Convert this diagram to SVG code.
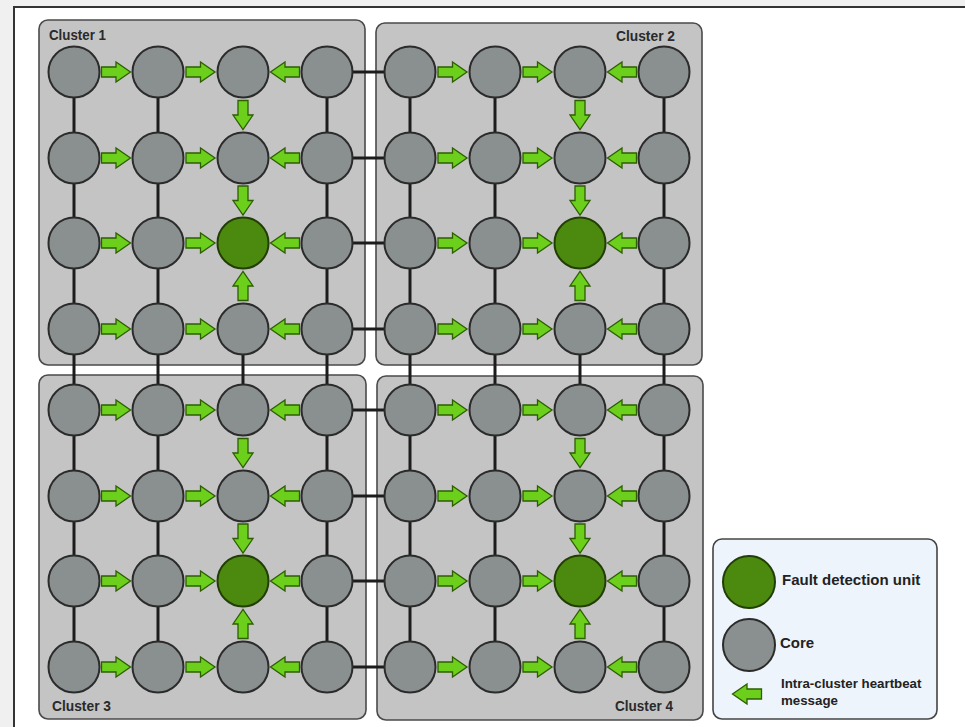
<svg xmlns="http://www.w3.org/2000/svg" xmlns:xlink="http://www.w3.org/1999/xlink" width="965" height="727" viewBox="0 0 965 727">
<style>
.cluster{fill:#c4c4c4;stroke:#4a4a4a;stroke-width:1.6}
.core{fill:#8a8f90;stroke:#2b2b2b;stroke-width:2}
.fdu{fill:#4b8a0e;stroke:#223d05;stroke-width:2}
.link{stroke:#1c1c1c;stroke-width:3;fill:none}
.hb{fill:#6ccf1c;stroke:#2d5e00;stroke-width:1.3}
.clabel{font-family:"Liberation Sans",Arial,sans-serif;font-weight:bold;font-size:15.5px;fill:#2a2a2a}
.ltext{font-family:"Liberation Sans",Arial,sans-serif;font-weight:bold;fill:#222}
</style>
<defs>
<path id="ar" d="M-14.5,-5 H0 V-10 L14.5,0 L0,10 V5 H-14.5 Z"/>
</defs>
<rect x="0" y="0" width="965" height="727" fill="#f0f0f0"/>
<rect x="14" y="7" width="1000" height="800" fill="#ffffff" stroke="#333" stroke-width="2"/>

<g id="clusters">
<g id="cluster1"><rect class="cluster" x="39" y="20" width="326" height="345" rx="9"/><text class="clabel" x="49" y="40" textLength="57" lengthAdjust="spacingAndGlyphs">Cluster 1</text></g>
<g id="cluster2"><rect class="cluster" x="376" y="23" width="326" height="342" rx="9"/><text class="clabel" x="616" y="41" textLength="59" lengthAdjust="spacingAndGlyphs">Cluster 2</text></g>
<g id="cluster3"><rect class="cluster" x="39" y="375" width="327" height="344" rx="9"/><text class="clabel" x="52" y="711" textLength="59" lengthAdjust="spacingAndGlyphs">Cluster 3</text></g>
<g id="cluster4"><rect class="cluster" x="377" y="376" width="326" height="344" rx="9"/><text class="clabel" x="615" y="711" textLength="58" lengthAdjust="spacingAndGlyphs">Cluster 4</text></g>
</g>

<g id="connectors">
<g id="links">
<line class="link" x1="74" y1="72" x2="74" y2="667"/>
<line class="link" x1="158" y1="72" x2="158" y2="667"/>
<line class="link" x1="243" y1="329" x2="243" y2="410"/>
<line class="link" x1="327" y1="72" x2="327" y2="667"/>
<line class="link" x1="410" y1="72" x2="410" y2="667"/>
<line class="link" x1="495" y1="72" x2="495" y2="667"/>
<line class="link" x1="580" y1="329" x2="580" y2="410"/>
<line class="link" x1="664" y1="72" x2="664" y2="667"/>
<line class="link" x1="327" y1="72" x2="410" y2="72"/>
<line class="link" x1="327" y1="158" x2="410" y2="158"/>
<line class="link" x1="327" y1="243" x2="410" y2="243"/>
<line class="link" x1="327" y1="329" x2="410" y2="329"/>
<line class="link" x1="327" y1="410" x2="410" y2="410"/>
<line class="link" x1="327" y1="496" x2="410" y2="496"/>
<line class="link" x1="327" y1="581" x2="410" y2="581"/>
<line class="link" x1="327" y1="667" x2="410" y2="667"/>
</g>
<g id="heartbeats" class="hb">
<use href="#ar" transform="translate(116,72)"/><use href="#ar" transform="translate(200.5,72)"/><use href="#ar" transform="translate(285,72) rotate(180)"/>
<use href="#ar" transform="translate(116,158)"/><use href="#ar" transform="translate(200.5,158)"/><use href="#ar" transform="translate(285,158) rotate(180)"/>
<use href="#ar" transform="translate(116,243)"/><use href="#ar" transform="translate(200.5,243)"/><use href="#ar" transform="translate(285,243) rotate(180)"/>
<use href="#ar" transform="translate(116,329)"/><use href="#ar" transform="translate(200.5,329)"/><use href="#ar" transform="translate(285,329) rotate(180)"/>
<use href="#ar" transform="translate(243,115) rotate(90)"/><use href="#ar" transform="translate(243,200.5) rotate(90)"/><use href="#ar" transform="translate(243,286) rotate(-90)"/>
<use href="#ar" transform="translate(452.5,72)"/><use href="#ar" transform="translate(537.5,72)"/><use href="#ar" transform="translate(622,72) rotate(180)"/>
<use href="#ar" transform="translate(452.5,158)"/><use href="#ar" transform="translate(537.5,158)"/><use href="#ar" transform="translate(622,158) rotate(180)"/>
<use href="#ar" transform="translate(452.5,243)"/><use href="#ar" transform="translate(537.5,243)"/><use href="#ar" transform="translate(622,243) rotate(180)"/>
<use href="#ar" transform="translate(452.5,329)"/><use href="#ar" transform="translate(537.5,329)"/><use href="#ar" transform="translate(622,329) rotate(180)"/>
<use href="#ar" transform="translate(580,115) rotate(90)"/><use href="#ar" transform="translate(580,200.5) rotate(90)"/><use href="#ar" transform="translate(580,286) rotate(-90)"/>
<use href="#ar" transform="translate(116,410)"/><use href="#ar" transform="translate(200.5,410)"/><use href="#ar" transform="translate(285,410) rotate(180)"/>
<use href="#ar" transform="translate(116,496)"/><use href="#ar" transform="translate(200.5,496)"/><use href="#ar" transform="translate(285,496) rotate(180)"/>
<use href="#ar" transform="translate(116,581)"/><use href="#ar" transform="translate(200.5,581)"/><use href="#ar" transform="translate(285,581) rotate(180)"/>
<use href="#ar" transform="translate(116,667)"/><use href="#ar" transform="translate(200.5,667)"/><use href="#ar" transform="translate(285,667) rotate(180)"/>
<use href="#ar" transform="translate(243,453) rotate(90)"/><use href="#ar" transform="translate(243,538.5) rotate(90)"/><use href="#ar" transform="translate(243,624) rotate(-90)"/>
<use href="#ar" transform="translate(452.5,410)"/><use href="#ar" transform="translate(537.5,410)"/><use href="#ar" transform="translate(622,410) rotate(180)"/>
<use href="#ar" transform="translate(452.5,496)"/><use href="#ar" transform="translate(537.5,496)"/><use href="#ar" transform="translate(622,496) rotate(180)"/>
<use href="#ar" transform="translate(452.5,581)"/><use href="#ar" transform="translate(537.5,581)"/><use href="#ar" transform="translate(622,581) rotate(180)"/>
<use href="#ar" transform="translate(452.5,667)"/><use href="#ar" transform="translate(537.5,667)"/><use href="#ar" transform="translate(622,667) rotate(180)"/>
<use href="#ar" transform="translate(580,453) rotate(90)"/><use href="#ar" transform="translate(580,538.5) rotate(90)"/><use href="#ar" transform="translate(580,624) rotate(-90)"/>
</g>
</g>

<g id="nodes">
<g id="c1-r1-k1"><circle class="core" cx="74" cy="72" r="25.5"/></g>
<g id="c1-r1-k2"><circle class="core" cx="158" cy="72" r="25.5"/></g>
<g id="c1-r1-k3"><circle class="core" cx="243" cy="72" r="25.5"/></g>
<g id="c1-r1-k4"><circle class="core" cx="327" cy="72" r="25.5"/></g>
<g id="c1-r2-k1"><circle class="core" cx="74" cy="158" r="25.5"/></g>
<g id="c1-r2-k2"><circle class="core" cx="158" cy="158" r="25.5"/></g>
<g id="c1-r2-k3"><circle class="core" cx="243" cy="158" r="25.5"/></g>
<g id="c1-r2-k4"><circle class="core" cx="327" cy="158" r="25.5"/></g>
<g id="c1-r3-k1"><circle class="core" cx="74" cy="243" r="25.5"/></g>
<g id="c1-r3-k2"><circle class="core" cx="158" cy="243" r="25.5"/></g>
<g id="c1-fdu"><circle class="fdu" cx="243" cy="243" r="25.5"/></g>
<g id="c1-r3-k4"><circle class="core" cx="327" cy="243" r="25.5"/></g>
<g id="c1-r4-k1"><circle class="core" cx="74" cy="329" r="25.5"/></g>
<g id="c1-r4-k2"><circle class="core" cx="158" cy="329" r="25.5"/></g>
<g id="c1-r4-k3"><circle class="core" cx="243" cy="329" r="25.5"/></g>
<g id="c1-r4-k4"><circle class="core" cx="327" cy="329" r="25.5"/></g>

<g id="c2-r1-k1"><circle class="core" cx="410" cy="72" r="25.5"/></g>
<g id="c2-r1-k2"><circle class="core" cx="495" cy="72" r="25.5"/></g>
<g id="c2-r1-k3"><circle class="core" cx="580" cy="72" r="25.5"/></g>
<g id="c2-r1-k4"><circle class="core" cx="664" cy="72" r="25.5"/></g>
<g id="c2-r2-k1"><circle class="core" cx="410" cy="158" r="25.5"/></g>
<g id="c2-r2-k2"><circle class="core" cx="495" cy="158" r="25.5"/></g>
<g id="c2-r2-k3"><circle class="core" cx="580" cy="158" r="25.5"/></g>
<g id="c2-r2-k4"><circle class="core" cx="664" cy="158" r="25.5"/></g>
<g id="c2-r3-k1"><circle class="core" cx="410" cy="243" r="25.5"/></g>
<g id="c2-r3-k2"><circle class="core" cx="495" cy="243" r="25.5"/></g>
<g id="c2-fdu"><circle class="fdu" cx="580" cy="243" r="25.5"/></g>
<g id="c2-r3-k4"><circle class="core" cx="664" cy="243" r="25.5"/></g>
<g id="c2-r4-k1"><circle class="core" cx="410" cy="329" r="25.5"/></g>
<g id="c2-r4-k2"><circle class="core" cx="495" cy="329" r="25.5"/></g>
<g id="c2-r4-k3"><circle class="core" cx="580" cy="329" r="25.5"/></g>
<g id="c2-r4-k4"><circle class="core" cx="664" cy="329" r="25.5"/></g>

<g id="c3-r1-k1"><circle class="core" cx="74" cy="410" r="25.5"/></g>
<g id="c3-r1-k2"><circle class="core" cx="158" cy="410" r="25.5"/></g>
<g id="c3-r1-k3"><circle class="core" cx="243" cy="410" r="25.5"/></g>
<g id="c3-r1-k4"><circle class="core" cx="327" cy="410" r="25.5"/></g>
<g id="c3-r2-k1"><circle class="core" cx="74" cy="496" r="25.5"/></g>
<g id="c3-r2-k2"><circle class="core" cx="158" cy="496" r="25.5"/></g>
<g id="c3-r2-k3"><circle class="core" cx="243" cy="496" r="25.5"/></g>
<g id="c3-r2-k4"><circle class="core" cx="327" cy="496" r="25.5"/></g>
<g id="c3-r3-k1"><circle class="core" cx="74" cy="581" r="25.5"/></g>
<g id="c3-r3-k2"><circle class="core" cx="158" cy="581" r="25.5"/></g>
<g id="c3-fdu"><circle class="fdu" cx="243" cy="581" r="25.5"/></g>
<g id="c3-r3-k4"><circle class="core" cx="327" cy="581" r="25.5"/></g>
<g id="c3-r4-k1"><circle class="core" cx="74" cy="667" r="25.5"/></g>
<g id="c3-r4-k2"><circle class="core" cx="158" cy="667" r="25.5"/></g>
<g id="c3-r4-k3"><circle class="core" cx="243" cy="667" r="25.5"/></g>
<g id="c3-r4-k4"><circle class="core" cx="327" cy="667" r="25.5"/></g>

<g id="c4-r1-k1"><circle class="core" cx="410" cy="410" r="25.5"/></g>
<g id="c4-r1-k2"><circle class="core" cx="495" cy="410" r="25.5"/></g>
<g id="c4-r1-k3"><circle class="core" cx="580" cy="410" r="25.5"/></g>
<g id="c4-r1-k4"><circle class="core" cx="664" cy="410" r="25.5"/></g>
<g id="c4-r2-k1"><circle class="core" cx="410" cy="496" r="25.5"/></g>
<g id="c4-r2-k2"><circle class="core" cx="495" cy="496" r="25.5"/></g>
<g id="c4-r2-k3"><circle class="core" cx="580" cy="496" r="25.5"/></g>
<g id="c4-r2-k4"><circle class="core" cx="664" cy="496" r="25.5"/></g>
<g id="c4-r3-k1"><circle class="core" cx="410" cy="581" r="25.5"/></g>
<g id="c4-r3-k2"><circle class="core" cx="495" cy="581" r="25.5"/></g>
<g id="c4-fdu"><circle class="fdu" cx="580" cy="581" r="25.5"/></g>
<g id="c4-r3-k4"><circle class="core" cx="664" cy="581" r="25.5"/></g>
<g id="c4-r4-k1"><circle class="core" cx="410" cy="667" r="25.5"/></g>
<g id="c4-r4-k2"><circle class="core" cx="495" cy="667" r="25.5"/></g>
<g id="c4-r4-k3"><circle class="core" cx="580" cy="667" r="25.5"/></g>
<g id="c4-r4-k4"><circle class="core" cx="664" cy="667" r="25.5"/></g>
</g>

<g id="legend">
<rect x="713" y="539" width="224" height="180" rx="9" fill="#eef4fb" stroke="#444" stroke-width="1.6"/>
<circle class="fdu" cx="749" cy="582" r="26"/>
<text class="ltext" x="782" y="585" font-size="15">Fault detection unit</text>
<circle class="core" cx="749" cy="645" r="26"/>
<text class="ltext" x="780" y="648" font-size="15">Core</text>
<use href="#ar" class="hb" transform="translate(747,694) rotate(180)"/>
<text class="ltext" x="781" y="688" font-size="13.3">Intra-cluster heartbeat</text>
<text class="ltext" x="781" y="705" font-size="13.3">message</text>
</g>
</svg>
